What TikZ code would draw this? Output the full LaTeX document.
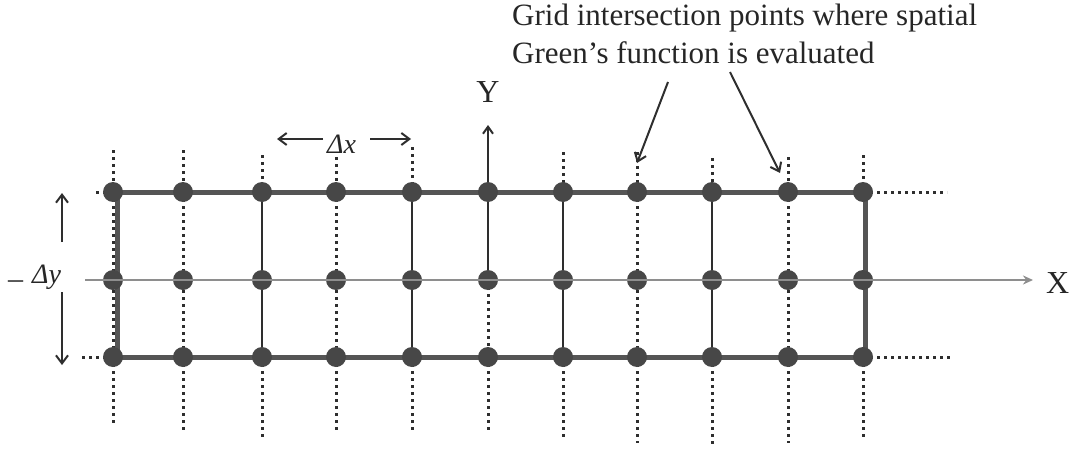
\documentclass[tikz,border=0pt]{standalone}
\usepackage{fontspec}
\setmainfont{Liberation Serif}
\usetikzlibrary{arrows.meta}
\definecolor{dotfill}{HTML}{474747}
\definecolor{framecol}{HTML}{555555}
\definecolor{axisgrey}{HTML}{8E8E8E}
\definecolor{ink}{HTML}{2E2E2E}
\begin{document}
\begin{tikzpicture}[x=1pt,y=-1pt,
  frameline/.style={line width=5pt, draw=framecol},
  gridline/.style={line width=2.4pt, draw=ink},
  dotline/.style={line width=3pt, draw=ink, dash pattern=on 2.6pt off 4.4pt},
  axisline/.style={line width=2pt, draw=axisgrey},
  gridpt/.style={circle, fill=dotfill, minimum size=20pt, inner sep=0pt},
  pointer/.style={line width=2pt, draw=ink, -{Straight Barb[length=8pt,width=12pt,line width=2pt]}},
  lbl/.style={inner sep=0pt, text=black!85}
]
\useasboundingbox (0,0) rectangle (1073,452);

% grid points: top, middle and bottom rows
\foreach \x [count=\i] in {113,183,262,336,412,488,563,637,712,788,863} {
  \coordinate (t\i) at (\x,192);
  \coordinate (m\i) at (\x,280);
  \coordinate (b\i) at (\x,357);
}
% free ends of the dotted lines above and below the grid
\foreach \x/\up/\dn [count=\i] in {113/150/425, 183/150/432, 262/155/440, 336/157/432,
    412/147/432, 488/150/432, 563/152/437, 637/152/443, 712/158/447, 788/157/443, 863/155/440} {
  \coordinate (u\i) at (\x,\up);
  \coordinate (d\i) at (\x,\dn);
}
\coordinate (tl) at (96,192);
\coordinate (bl) at (82,357);
\coordinate (tr) at (947,192);
\coordinate (br) at (951,357);

% dotted continuation lines
\foreach \i in {1,2,3,4,5,7,8,9,10,11} \draw[dotline] (u\i) -- (t\i);
\foreach \i in {1,...,11} \draw[dotline] (b\i) -- (d\i);
\foreach \i in {1,2,4,8,10} \draw[dotline] (t\i) -- (b\i);
\draw[dotline] (m6) -- (b6);
\draw[dotline] (tl) -- (t1);
\draw[dotline] (bl) -- (b1);
\draw[dotline] (t11) -- (tr);
\draw[dotline] (b11) -- (br);

% solid inner grid lines
\foreach \i in {3,5,7,9} \draw[gridline] (t\i) -- (b\i);

% outer frame
\draw[frameline] (t1) -- (t11);
\draw[frameline] (b1) -- (b11);
\draw[frameline] ([xshift=4pt]t1) -- ([xshift=4pt]b1);
\draw[frameline] ([xshift=2pt]t11) -- ([xshift=2pt]b11);

% Y axis
\coordinate (ytip) at (488,125);
\draw[gridline, -{Straight Barb[length=7pt,width=10pt,line width=2pt]}] (m6) -- (ytip);

% grid intersection points
\foreach \i in {1,...,11} \foreach \r in {t,m,b} \node[gridpt] (p\r\i) at (\r\i) {};

% X axis
\coordinate (xstart) at (85,280);
\coordinate (xtip) at (1033,280);
\draw[axisline, -{Stealth[length=10pt,width=9pt]}] (xstart) -- (xtip);

% axis labels
\node[lbl, anchor=base, font=\fontsize{32}{36}\selectfont] (ylab) at (488,102) {Y};
\node[lbl, anchor=base west, font=\fontsize{32}{36}\selectfont] (xlab) at (1046,293) {X};

% spacing markers
\coordinate (dxl0) at (323,139); \coordinate (dxl1) at (277,139);
\coordinate (dxr0) at (370,139); \coordinate (dxr1) at (411,139);
\draw[pointer] (dxl0) -- (dxl1);
\draw[pointer] (dxr0) -- (dxr1);
\node[lbl, anchor=base west, font=\fontsize{28}{32}\selectfont] (dx) at (327,153) {\textit{Δx}};

\coordinate (dyu0) at (62,242); \coordinate (dyu1) at (62,193);
\coordinate (dyd0) at (62,292); \coordinate (dyd1) at (62,365);
\draw[pointer] (dyu0) -- (dyu1);
\draw[pointer] (dyd0) -- (dyd1);
\node[lbl, anchor=base west, font=\fontsize{28}{32}\selectfont] (dy) at (8,283)
  {\raisebox{-5pt}{\fontsize{30}{30}\selectfont –}\hspace{9pt}\textit{Δy}};

% annotation
\node[lbl, anchor=north west, align=left, font=\fontsize{31}{38}\selectfont] (note) at (512,4)
  {Grid intersection points where spatial\\Green’s function is evaluated};
\coordinate (n1) at (668,82); \coordinate (n1t) at (637,163);
\coordinate (n2) at (730,72); \coordinate (n2t) at (780,173);
\draw[pointer] (n1) -- (n1t);
\draw[pointer] (n2) -- (n2t);
\end{tikzpicture}
\end{document}
